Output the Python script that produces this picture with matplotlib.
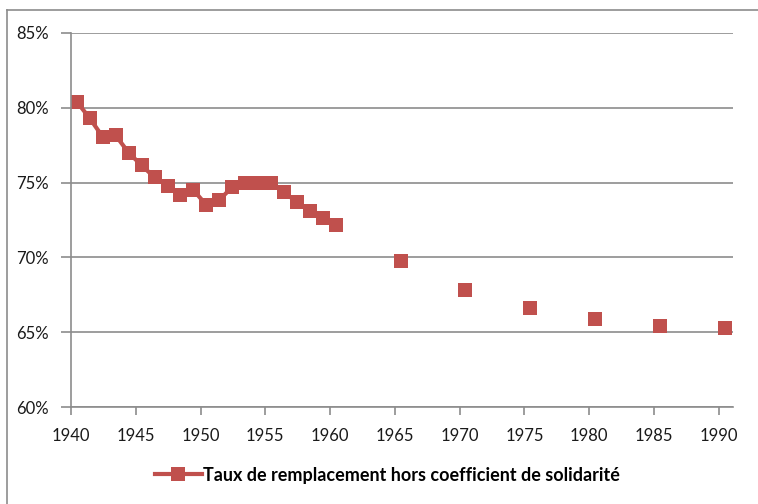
import matplotlib
matplotlib.use("Agg")
import matplotlib.pyplot as plt
from matplotlib.lines import Line2D
from matplotlib.ticker import FuncFormatter

plt.rcParams['font.family'] = ['Lato', 'DejaVu Sans']

# annual values 1940-1960 (connected)
years_annual = list(range(1940, 1961))
rate_annual = [80.4, 79.3, 78.05, 78.15, 77.0, 76.15, 75.35, 74.8, 74.15, 74.5, 73.5,
               73.85, 74.7, 75.0, 74.95, 75.0, 74.35, 73.7, 73.1, 72.65, 72.15]

# five-year values 1965-1990 (markers only)
years_5 = [1965, 1970, 1975, 1980, 1985, 1990]
rate_5 = [69.75, 67.8, 66.65, 65.85, 65.4, 65.3]

label = "Taux de remplacement hors coefficient de solidarité"
red = "#C0504D"
grey = "#8C8C8C"
offset = 0.45  # points sit mid-year on the axis

fig = plt.figure(figsize=(7.58, 5.04), dpi=100)
ax = fig.add_axes([71 / 758, 1 - 407 / 504, (733 - 71) / 758, (407 - 33) / 504])

ax.plot([y + offset for y in years_annual], rate_annual, color=red, lw=3,
        marker='s', markersize=10, markeredgewidth=0, label=label)
ax.plot([y + offset for y in years_5], rate_5, color=red, lw=0,
        marker='s', markersize=10, markeredgewidth=0)

ax.set_xlim(1940, 1991.1)
ax.set_ylim(60, 85)
ax.set_xticks(range(1940, 1991, 5))
ax.set_yticks(range(60, 86, 5))
ax.yaxis.set_major_formatter(FuncFormatter(lambda v, p: f"{int(v)}%"))

ax.grid(axis='y', color=grey, lw=1.2)
ax.set_axisbelow(True)
for s in ['top', 'right']:
    ax.spines[s].set_visible(False)
for s in ['left', 'bottom']:
    ax.spines[s].set_color(grey)
    ax.spines[s].set_linewidth(1.2)

ax.tick_params(axis='x', length=6, width=1.2, color=grey, pad=9, labelsize=12, labelcolor='#1a1a1a')
ax.tick_params(axis='y', length=7, width=1.2, color=grey, pad=9, labelsize=12, labelcolor='#1a1a1a')

fig.legend(loc='center', bbox_to_anchor=(0.511, 1 - 475 / 504), frameon=False,
           handlelength=2.6, handletextpad=0.05, numpoints=1,
           prop={'size': 13, 'weight': 'bold'})

# outer chart border (left and top edges visible)
fig.add_artist(Line2D([7 / 758, 7 / 758], [0, 1 - 10 / 504], color=grey, lw=1.2))
fig.add_artist(Line2D([7 / 758, 1], [1 - 10 / 504, 1 - 10 / 504], color=grey, lw=1.2))

fig.savefig("out.png", dpi=100)
